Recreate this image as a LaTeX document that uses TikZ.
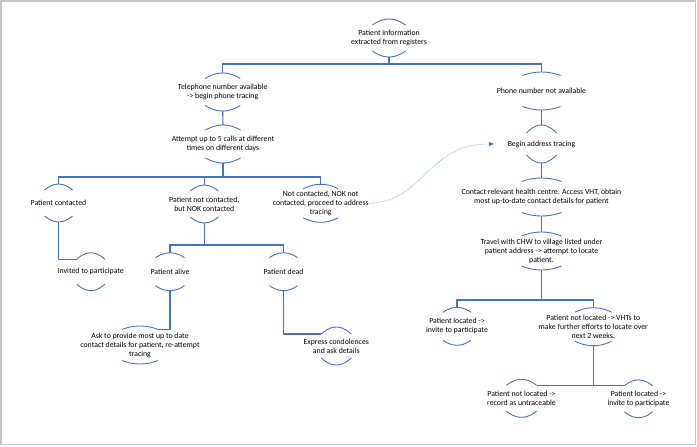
\documentclass[tikz,border=0pt]{standalone}
\usepackage{fontspec}
\setmainfont{Carlito}
\usetikzlibrary{arrows.meta, calc}
\definecolor{Link}{HTML}{4472C4}
\definecolor{Trace}{HTML}{8EAADB}
\definecolor{Frame}{HTML}{C4C4C4}

\begin{document}
\begin{tikzpicture}[x=1pt, y=-1pt,
            txt/.style={align=center, inner sep=1.5pt, font=\fontsize{7.8}{9}\selectfont},
            ring/.style={draw=Link, line width=0.9pt},
            link/.style={draw=Link, line width=1.1pt},
            trace/.style={draw=Trace, line width=0.6pt, dash pattern=on 0.7pt off 0.7pt, -{Triangle[length=5pt, width=4pt, color=Link]}},
            frame/.style={draw=Frame, line width=1.8pt}
        ]
            \useasboundingbox (0,0) rectangle (697,447);
            \draw[frame] (1,1) rectangle (695.5,444.5);

            % Top level
            \node[txt] (pinfo) at (389,38) {Patient information\\extracted from registers};
            \node[txt] (tel) at (222.7,92) {Telephone number available\\-> begin phone tracing};
            \node[txt] (nophone) at (541.5,91) {Phone number not available};

            % Phone tracing branch
            \node[txt] (attempt) at (223,144) {Attempt up to 5 calls at different\\times on different days};
            \node[txt] (contacted) at (58.5,203) {Patient contacted};
            \node[txt] (nok) at (204.3,204) {Patient not contacted,\\but NOK contacted};
            \node[txt] (notnok) at (320.7,203.3) {Not contacted, NOK not\\contacted, proceed to address\\tracing};
            \node[txt] (invited) at (90.8,271.7) {Invited to participate};
            \node[txt] (alive) at (170,271.7) {Patient alive};
            \node[txt] (dead) at (283.5,271.7) {Patient dead};
            \node[txt] (ask) at (140,345) {Ask to provide most up to date\\contact details for patient, re-attempt\\tracing};
            \node[txt] (express) at (336.3,346) {Express condolences\\and ask details};

            % Address tracing branch
            \node[txt] (begin) at (541.5,144) {Begin address tracing};
            \node[txt] (contact) at (541.5,197) {Contact relevant health centre. Access VHT, obtain\\most up-to-date contact details for patient};
            \node[txt] (travel) at (541.5,251) {Travel with CHW to village listed under\\patient address -> attempt to locate\\patient.};
            \node[txt] (loc1) at (457,326.3) {Patient located ->\\invite to participate};
            \node[txt] (notloc) at (593.3,326.7) {Patient not located -> VHTs to\\make further efforts to locate over\\next 2 weeks.};
            \node[txt] (untrace) at (521.5,398.3) {Patient not located ->\\record as untraceable};
            \node[txt] (loc2) at (638.5,398.8) {Patient located ->\\invite to participate};

            % Arcs above and below each label
            \foreach \nm/\aw/\ah in {pinfo/16.5/6, tel/17.5/5.5, nophone/19/3.5, attempt/17.5/5,
                    contacted/14/6, nok/14/6, notnok/17.5/4.5, invited/14/6.5, alive/14.5/5,
                    dead/14/5, ask/18.3/3.5, express/15/7, begin/15/8, contact/20/3.5,
                    travel/20/4, loc1/14/5, notloc/18.3/4.5, untrace/15/6, loc2/14/6} {
                \coordinate (\nm-top) at ($(\nm)+(0,-19)$);
                \coordinate (\nm-bot) at ($(\nm)+(0,19)$);
                \coordinate (\nm-tl) at ($(\nm-top)+(-\aw,\ah)$);
                \coordinate (\nm-tr) at ($(\nm-top)+(\aw,\ah)$);
                \draw[ring] (\nm-tl) parabola bend (\nm-top) (\nm-tr);
                \draw[ring] ($(\nm-bot)+(-\aw,-\ah)$) parabola bend (\nm-bot) ($(\nm-bot)+(\aw,-\ah)$);
            }

            % Connections
            \draw[link] (pinfo-bot) -- ++(0,7) coordinate (j1);
            \draw[link] (tel-top) |- (j1) -| (nophone-top);
            \draw[link] (tel-bot) -- (attempt-top);
            \draw[link] (attempt-bot) -- ++(0,14) coordinate (j2);
            \draw[link] (contacted-top) |- (j2) -| (notnok-top);
            \draw[link] (nok-top) |- (j2);
            \draw[link] (contacted-bot) |- (invited-tl);
            \draw[link] (nok-bot) -- ++(0,22) coordinate (j3);
            \draw[link] (alive-top) |- (j3) -| (dead-top);
            \draw[link] (alive-bot) |- (ask-tr);
            \draw[link] (dead-bot) |- (express-tl);
            \draw[link] (nophone-bot) -- (begin-top);
            \draw[link] (begin-bot) -- (contact-top);
            \draw[link] (contact-bot) -- (travel-top);
            \draw[link] (travel-bot) -- ++(0,30) coordinate (j4);
            \draw[link] (loc1-top) |- (j4) -| (notloc-top);
            \draw[link] (untrace-tr) -| (notloc-bot);
            \draw[link] (loc2-tl) -| (notloc-bot);
            \draw[trace] (notnok.east) .. controls +(55,-3) and +(-67,0) .. ([xshift=-12pt]begin.west);
        \end{tikzpicture}
\end{document}
